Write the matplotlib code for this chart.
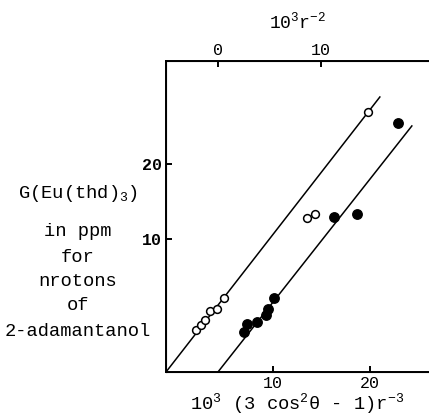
import matplotlib
matplotlib.use("Agg")
import matplotlib.pyplot as plt
import numpy as np

plt.rcParams['font.family'] = ['Liberation Mono', 'DejaVu Sans Mono']
plt.rcParams['mathtext.fontset'] = 'custom'
plt.rcParams['mathtext.rm'] = 'Liberation Mono'
plt.rcParams['mathtext.it'] = 'Liberation Mono'

# open circles (upper line)
open_x = [2.03, 2.55, 3.02, 3.47, 4.20, 4.92, 13.5, 14.33, 19.8]
open_y = [-2.13, -1.51, -0.8, 0.36, 0.67, 2.09, 12.8, 13.33, 26.9]
# filled circles (lower line)
fill_x = [7.04, 7.29, 8.32, 9.28, 9.52, 10.1, 16.29, 18.63, 22.89]
fill_y = [-2.36, -1.33, -1.03, -0.13, 0.67, 2.09, 12.93, 13.33, 25.47]
# fitted lines: slope, intercept, x from, x to
fit_open = (1.662, -6.02, -1.03, 21.03)
fit_fill = (1.64, -14.83, 4.33, 24.33)

bottom_ticks = [10, 20]
left_ticks = [10, 20]
top_ticks = [0, 10]

fig = plt.figure(figsize=(4.29, 4.20), dpi=100)
ax = fig.add_axes([166 / 429, 48 / 420, 1 - 166 / 429, 311 / 420])

for s, b, x0, x1 in (fit_open, fit_fill):
    xx = np.array([x0, x1])
    ax.plot(xx, s * xx + b, color='black', lw=1.1, zorder=2)

ax.plot(open_x, open_y, 'o', ms=5.6, mfc='white', mec='black', mew=1.1, zorder=3)
ax.plot(fill_x, fill_y, 'o', ms=6.8, mfc='black', mec='black', zorder=3)

ax.set_xlim(-1.03, 26.1)
ax.set_ylim(-7.73, 33.73)
ax.spines['right'].set_visible(False)
for sp in ('left', 'bottom', 'top'):
    ax.spines[sp].set_linewidth(1.4)

ax.set_xticks(bottom_ticks)
ax.set_yticks(left_ticks)
ax.tick_params(direction='in', length=4, width=1.4, labelsize=12, pad=3)
for lab in ax.get_yticklabels():
    lab.set_fontweight('bold')

# top axis, 10^3 r^-2
ax2 = ax.twiny()
ax2.set_xlim((-1.03 - 4.33) / 1.062, (26.1 - 4.33) / 1.062)
ax2.set_xticks(top_ticks)
ax2.tick_params(direction='in', length=4, width=1.4, labelsize=12, pad=2)
ax2.spines['right'].set_visible(False)
ax2.set_xlabel(r'10$^3$r$^{-2}$', fontsize=13, labelpad=11)

ax.set_xlabel(r'10$^3$ (3 cos$^2\theta$ - 1)r$^{-3}$', fontsize=13.5, labelpad=0)

ylab_lines = [r'G(Eu(thd)$_3$)', 'in ppm', 'for', 'nrotons', 'of', '2-adamantanol']
ylab_pos = [194, 231, 257, 281, 306, 331]
for t, yp in zip(ylab_lines, ylab_pos):
    fig.text(78 / 429, 1 - yp / 420, t, ha='center', va='center', fontsize=13.5)

fig.savefig('out.png', dpi=100)
